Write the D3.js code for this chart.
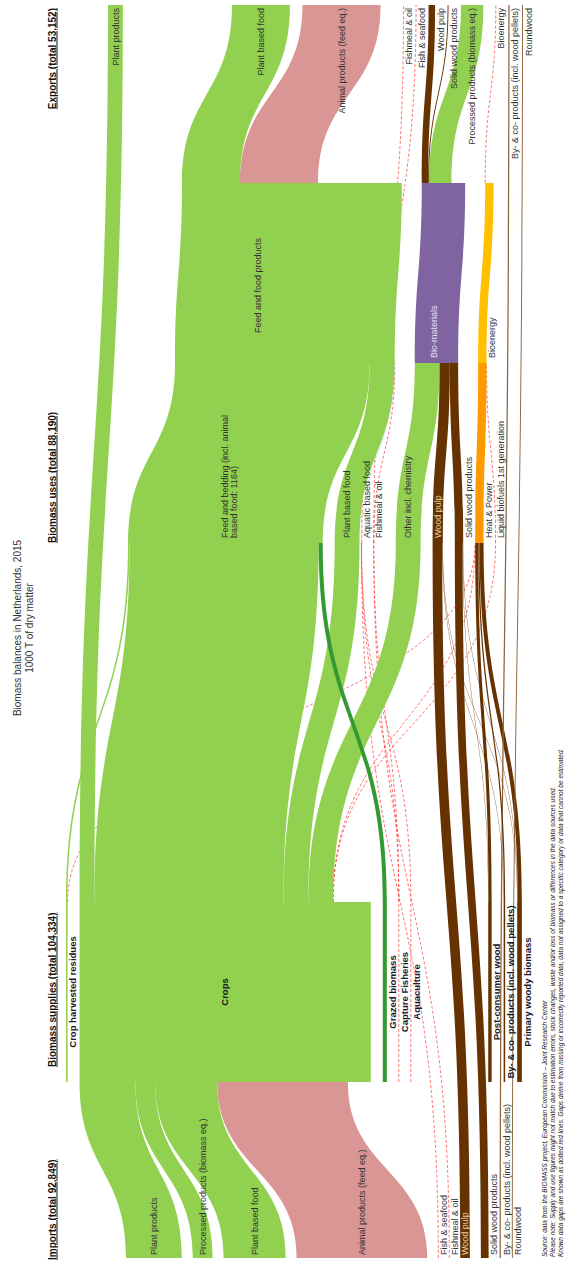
<!DOCTYPE html>
<html><head><meta charset="utf-8">
<script src="https://cdn.jsdelivr.net/npm/d3@7"></script>
<style>
body{margin:0;background:#fff}
svg text{font-family:"Liberation Sans",Arial,sans-serif}
</style>
</head><body>
<svg id="c" width="567" height="1262"></svg>
<script>
// ---------------- DATA ----------------
const importLabels = ["Plant products","Processed products (biomass eq.)","Plant based food","Animal products (feed eq.)","Fish & seafood","Fishmeal & oil","Wood pulp","Solid wood products","By- & co- products (incl. wood pellets)","Roundwood"];
const importValues = [18000, 6400, 20000, 42150, 0, 0, 3100, 2500, 400, 300];

const supplyLabels = ["Crop harvested residues","Crops","Grazed biomass","Capture Fisheries","Aquaculture","Post-consumer wood","By- & co- products (incl. wood pellets)","Primary woody biomass"];
const supplyDomestic = [500, 7400, 1300, 0, 0, 1100, 500, 1500];

const useLabels = ["Feed and bedding (incl. animal based food: 1164)","Plant based food","Aquatic based food","Fishmeal & oil","Other incl. chemistry","Wood pulp","Solid wood products","Heat & Power","Liquid biofuels 1st generation"];

const mainUseLabels = ["Feed and food products","Bio-materials","Bioenergy"];

const exportLabels = ["Plant products","Plant based food","Animal products (feed eq.)","Fishmeal & oil","Fish & seafood","Wood pulp","Solid wood products","Processed products (biomass eq.)","Bioenergy","By- & co- products (incl. wood pellets)","Roundwood"];
const exportValues = [4800, 18700, 25200, 0, 0, 2100, 300, 7200, 0, 400, 300];

const columnTitles = ["Imports (total 92,849)","Biomass supplies (total 104,334)","Biomass uses (total 88,190)","Exports (total 53,152)"];

const linkSource = [
 "imp:Plant products","imp:Processed products (biomass eq.)","imp:Plant based food","imp:Animal products (feed eq.)",
 "imp:Fish & seafood","imp:Fishmeal & oil","imp:Wood pulp","imp:Solid wood products",
 "imp:By- & co- products (incl. wood pellets)","imp:Roundwood",
 "sup:Crop harvested residues","sup:Crop harvested residues",
 "sup:Crops","sup:Crops","sup:Crops","sup:Crops","sup:Crops","sup:Crops",
 "sup:Grazed biomass","sup:Capture Fisheries","sup:Capture Fisheries","sup:Aquaculture",
 "sup:Post-consumer wood","sup:Post-consumer wood","sup:By- & co- products (incl. wood pellets)","sup:By- & co- products (incl. wood pellets)",
 "sup:Primary woody biomass","sup:Primary woody biomass","sup:Primary woody biomass",
 "use:Feed and bedding (incl. animal based food: 1164)","use:Plant based food","use:Aquatic based food","use:Fishmeal & oil",
 "use:Other incl. chemistry","use:Wood pulp","use:Solid wood products","use:Heat & Power","use:Liquid biofuels 1st generation",
 "use:Aquatic based food","use:Fishmeal & oil",
 "main:Feed and food products","main:Feed and food products","main:Bio-materials","main:Bio-materials","main:Bio-materials","main:Bioenergy"
];
const linkTarget = [
 "sup:Crops","sup:Crops","sup:Crops","sup:Crops",
 "use:Aquatic based food","use:Fishmeal & oil","use:Wood pulp","use:Solid wood products",
 "exp:By- & co- products (incl. wood pellets)","exp:Roundwood",
 "use:Feed and bedding (incl. animal based food: 1164)","use:Heat & Power",
 "exp:Plant products","use:Feed and bedding (incl. animal based food: 1164)","use:Plant based food","use:Other incl. chemistry","use:Heat & Power","use:Liquid biofuels 1st generation",
 "use:Feed and bedding (incl. animal based food: 1164)","use:Aquatic based food","use:Fishmeal & oil","use:Aquatic based food",
 "use:Solid wood products","use:Heat & Power","use:Wood pulp","use:Heat & Power",
 "use:Wood pulp","use:Solid wood products","use:Heat & Power",
 "main:Feed and food products","main:Feed and food products","main:Feed and food products","main:Feed and food products",
 "main:Bio-materials","main:Bio-materials","main:Bio-materials","main:Bioenergy","main:Bioenergy",
 "exp:Fish & seafood","exp:Fishmeal & oil",
 "exp:Plant based food","exp:Animal products (feed eq.)","exp:Wood pulp","exp:Solid wood products","exp:Processed products (biomass eq.)","exp:Bioenergy"
];
const linkValue = [
 18000, 6400, 20000, 42150,
 0, 0, 3100, 2500,
 400, 300,
 500, 0,
 4800, 61000, 8000, 8000, 0, 0,
 1300, 0, 0, 0,
 100, 1000, 100, 400,
 100, 100, 1300,
 62800, 8000, 100, 0,
 8000, 3300, 2700, 2700, 0,
 0, 0,
 18700, 25200, 2100, 300, 7200, 0
];

// ---------------- LAYOUT ----------------
const svg = d3.select("#c");
const FULL = 1262;
const g = svg.append("g").attr("transform", `translate(0,${FULL}) rotate(-90)`);
const w = d3.scaleLinear().domain([0, 100000]).range([0, 310]);
const stageX = {imp:[4,4], sup:[180,360], use:[719,719], main:[899,1079], exp:[1257,1257]};
const layout = {
  imp:{start:126, pad:11},
  sup:{start:66, pad:12, gap:{"Post-consumer wood":77.4}},
  use:{start:128, pad:12, gap:{"Aquatic based food":2, "Other incl. chemistry":22}},
  mainIn:{start:175, pad:20},
  mainOut:{start:182, pad:20},
  exp:{start:108, pad:12.5, gap:{"Plant based food":109.1, "Fishmeal & oil":23}}
};
const green="#92D050", pink="#DA9694", brown="#663300", lbrown="#8C6239", tan="#A88462",
      dgreen="#339933", purple="#8064A2", yellow="#FFC000", orange="#FF9900", lblue="#B4C7E7", gapc="#FF3333";
const colorOf = {
 "imp:Plant products":green,"imp:Processed products (biomass eq.)":green,"imp:Plant based food":green,"imp:Animal products (feed eq.)":pink,
 "imp:Wood pulp":brown,"imp:Solid wood products":brown,"imp:By- & co- products (incl. wood pellets)":lbrown,"imp:Roundwood":tan,
 "sup:Crop harvested residues":green,"sup:Crops":green,"sup:Grazed biomass":dgreen,"sup:Post-consumer wood":brown,
 "sup:By- & co- products (incl. wood pellets)":brown,"sup:Primary woody biomass":brown,
 "use:Feed and bedding (incl. animal based food: 1164)":green,"use:Plant based food":green,"use:Aquatic based food":lblue,
 "use:Other incl. chemistry":green,"use:Wood pulp":brown,"use:Solid wood products":brown,"use:Heat & Power":orange,
 "main:Feed and food products":green,"main:Bio-materials":purple,"main:Bioenergy":yellow,
 "exp:Plant products":green,"exp:Plant based food":green,"exp:Animal products (feed eq.)":pink,"exp:Wood pulp":brown,
 "exp:Solid wood products":brown,"exp:Processed products (biomass eq.)":green,
 "exp:By- & co- products (incl. wood pellets)":lbrown,"exp:Roundwood":lbrown
};

const nodes = new Map();
function addStage(stage, labels, vals){
  labels.forEach((l,i)=>nodes.set(stage+":"+l,{id:stage+":"+l,stage,label:l,own:vals?vals[i]:0,ins:[],outs:[]}));
}
addStage("imp", importLabels, importValues);
addStage("sup", supplyLabels, supplyDomestic);
addStage("use", useLabels);
addStage("main", mainUseLabels);
addStage("exp", exportLabels, exportValues);

const links = linkSource.map((s,i)=>({source:nodes.get(s), target:nodes.get(linkTarget[i]), value:linkValue[i]}));
links.forEach(l=>{l.source.outs.push(l); l.target.ins.push(l);});

nodes.forEach(n=>{
  const inV = d3.sum(n.ins,l=>l.value), outV = d3.sum(n.outs,l=>l.value);
  if(n.stage==="imp") n.value = n.own;
  else if(n.stage==="sup") n.value = n.own + inV;
  else if(n.stage==="exp") n.value = Math.max(n.own, inV);
  else n.value = Math.max(inV, outV);
});

function stack(stage, cfg, keyIn, keyOut){
  let y = cfg.start, first = true;
  for(const n of nodes.values()){
    if(n.stage!==stage) continue;
    if(!first) y += (cfg.gap && cfg.gap[n.label]!==undefined) ? cfg.gap[n.label] : cfg.pad;
    first = false;
    const h = w(n.value);
    if(keyIn){ n.in0 = y; n.in1 = y+h; }
    if(keyOut){ n.out0 = y; n.out1 = y+h; }
    y += h;
  }
}
stack("imp", layout.imp, true, true);
stack("sup", layout.sup, true, true);
stack("use", layout.use, true, true);
stack("main", layout.mainIn, true, false);
stack("main", layout.mainOut, false, true);
stack("exp", layout.exp, true, true);

nodes.forEach(n=>{
  n.outs.sort((a,b)=>a.target.in0-b.target.in0);
  n.ins.sort((a,b)=>a.source.out0-b.source.out0);
  let o = n.out0; n.outs.forEach(l=>{l.s0=o; l.s1=o+w(l.value); o=l.s1;});
  let t = n.in0;  n.ins.forEach(l=>{l.t0=t; l.t1=t+w(l.value); t=l.t1;});
});

function band(x0,a0,a1,x1,b0,b1){
  const m=(x0+x1)/2;
  return `M${x0},${a0}C${m},${a0} ${m},${b0} ${x1},${b0}L${x1},${b1}C${m},${b1} ${m},${a1} ${x0},${a1}Z`;
}
function line(x0,a,x1,b){const m=(x0+x1)/2;return `M${x0},${a}C${m},${a} ${m},${b} ${x1},${b}`;}
const xOut = n=>stageX[n.stage][1], xIn = n=>stageX[n.stage][0];
const linkColor = l => l.target.stage==="exp" ? colorOf[l.target.id] : (colorOf[l.source.id]||green);

// gap links (dotted red)
g.append("g").selectAll("path").data(links.filter(l=>l.value===0)).join("path")
  .attr("d",l=>line(xOut(l.source),l.s0,xIn(l.target),l.t0))
  .attr("fill","none").attr("stroke",gapc).attr("stroke-width",0.9)
  .attr("stroke-dasharray","3,2").attr("opacity",0.75);

// zero supply nodes as dotted segments
g.append("g").selectAll("path").data([...nodes.values()].filter(n=>n.stage==="sup"&&n.value===0)).join("path")
  .attr("d",n=>`M180,${n.out0}L360,${n.out0}`)
  .attr("stroke",gapc).attr("stroke-width",0.9).attr("stroke-dasharray","3,2").attr("opacity",0.75);

// real links
g.append("g").selectAll("path")
  .data(links.filter(l=>l.value>0).sort((a,b)=>b.value-a.value)).join("path")
  .attr("d",l=>band(xOut(l.source),l.s0,l.s1,xIn(l.target),l.t0,l.t1))
  .attr("fill",linkColor);

// supply node rects
g.append("g").selectAll("rect").data([...nodes.values()].filter(n=>n.stage==="sup"&&n.value>0)).join("rect")
  .attr("x",180).attr("width",180).attr("y",n=>n.out0).attr("height",n=>n.out1-n.out0)
  .attr("fill",n=>colorOf[n.id]);

// main use bands
g.append("g").selectAll("path").data([...nodes.values()].filter(n=>n.stage==="main")).join("path")
  .attr("d",n=>band(899,n.in0,n.in1,1079,n.out0,n.out1)).attr("fill",n=>colorOf[n.id]);

// ---------------- LABELS ----------------
const labY = (a,b)=> (b-a)>=9 ? (a+b)/2 : b+5.5;
const onDark = (n,a,b)=> (b-a)>=9 && colorOf[n.id]===brown;
const lab = g.append("g").attr("font-size",9).attr("fill","#333");
function addLabel(x,y,txt,anchor,opts={}){
  const t = lab.append("text").attr("x",x).attr("y",y).attr("dy","0.35em").attr("text-anchor",anchor).text(txt);
  if(opts.bold) t.attr("font-weight","bold").attr("font-size",9.5).attr("fill","#1a1a2a");
  if(opts.fill) t.attr("fill",opts.fill);
  return t;
}
const lightTxt = "#E2CBA8";
nodes.forEach(n=>{
  if(n.stage==="imp") addLabel(7, labY(n.out0,n.out1), n.label, "start", onDark(n,n.out0,n.out1)?{fill:lightTxt}:{});
  if(n.stage==="sup") addLabel(270, labY(n.out0,n.out1), n.label, "middle", {bold:true});
  if(n.stage==="exp") addLabel(1254, labY(n.in0,n.in1), n.label, "end");
  if(n.stage==="use"){
    if(n.label.startsWith("Feed and bedding")){
      const c=(n.in0+n.in1)/2;
      addLabel(724, c, "Feed and bedding (incl. animal", "start");
      addLabel(724, c+8.5, "based food: 1164)", "start");
    } else addLabel(724, labY(n.in0,n.in1), n.label, "start", onDark(n,n.in0,n.in1)?{fill:lightTxt}:{});
  }
  if(n.stage==="main"){
    if(n.label==="Bio-materials") addLabel(904,(n.in0+n.in1)/2-3,n.label,"start",{fill:"#E6DDF0"});
    else if(n.label==="Bioenergy") addLabel(904,labY(n.in0,n.in1),n.label,"start",{fill:"#2F3B5A"});
    else addLabel(929,(n.in0+n.in1)/2-27,n.label,"start");
  }
});

// column titles
const hdr = g.append("g").attr("font-size",10).attr("font-weight","bold").attr("fill","#111")
  .attr("text-decoration","underline");
[[2,"start"],[195,"start"],[719,"start"],[1254,"end"]].forEach((p,i)=>
  hdr.append("text").attr("x",p[0]).attr("y",52).attr("dy","0.35em").attr("text-anchor",p[1]).text(columnTitles[i]));

// title
g.append("text").attr("x",634).attr("y",17).attr("dy","0.35em").attr("text-anchor","middle")
  .attr("font-size",10).attr("fill","#333").text("Biomass balances in Netherlands, 2015");
g.append("text").attr("x",634).attr("y",29).attr("dy","0.35em").attr("text-anchor","middle")
  .attr("font-size",10).attr("fill","#333").text("1000 T of dry matter");

// footnotes
const notes = [
 "Source: data from the BIOMASS project, European Commission \u2013 Joint Research Center",
 "Please note: Supply and use figures might not match due to estimation errors, stock changes, waste and/or loss of biomass or differences in the data sources used.",
 "Known data gaps are shown as dotted red lines. Gaps derive from missing or incorrectly reported data, data not assigned to a specific category or data that cannot be estimated."
];
g.append("g").attr("font-size",6.5).attr("font-style","italic").attr("fill","#222")
  .selectAll("text").data(notes).join("text")
  .attr("x",5).attr("y",(d,i)=>545+i*8).attr("dy","0.35em").text(d=>d);
</script>
</body></html>
